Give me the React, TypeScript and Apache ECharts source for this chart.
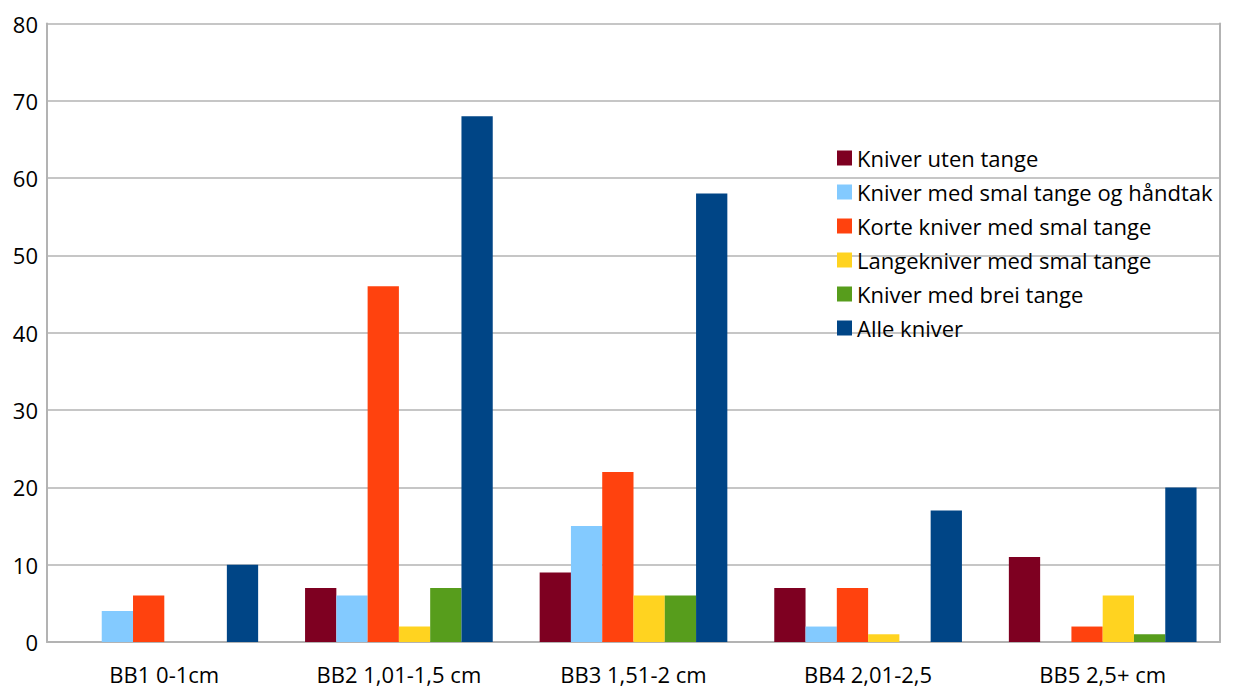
import React, { useEffect, useRef } from "react";
import * as echarts from "echarts";

const categories = ["BB1 0-1cm", "BB2 1,01-1,5 cm", "BB3 1,51-2 cm", "BB4 2,01-2,5", "BB5 2,5+ cm"];
const seriesNames = [
  "Kniver uten tange",
  "Kniver med smal tange og håndtak",
  "Korte kniver med smal tange",
  "Langekniver med smal tange",
  "Kniver med brei tange",
  "Alle kniver",
];
const utenTange = [0, 7, 9, 7, 11];
const smalHandtak = [4, 6, 15, 2, 0];
const korte = [6, 46, 22, 7, 2];
const lange = [0, 2, 6, 1, 6];
const brei = [0, 7, 6, 0, 1];
const alle = [10, 68, 58, 17, 20];
const colors = ["#7e0021", "#83caff", "#ff420e", "#ffd320", "#579d1c", "#004586"];

const FONT = "'Open Sans', sans-serif";

export default function App() {
  const ref = useRef<HTMLDivElement>(null);
  useEffect(() => {
    if (!ref.current) return;
    const chart = echarts.init(ref.current, undefined, { renderer: "svg" });
    const data = [utenTange, smalHandtak, korte, lange, brei, alle];
    chart.setOption({
      animation: false,
      color: colors,
      textStyle: { fontFamily: FONT },
      grid: { left: 47, right: 19, top: 23.5, bottom: 46, containLabel: false },
      legend: {
        orient: "vertical",
        left: 832,
        top: 141,
        itemWidth: 15,
        itemHeight: 15,
        itemGap: 10,
        icon: "rect",
        textStyle: { fontSize: 22, lineHeight: 24, color: "#000", fontFamily: FONT },
        data: seriesNames,
      },
      xAxis: {
        type: "category",
        data: categories,
        axisLine: { lineStyle: { color: "#b3b3b3", width: 2 } },
        axisTick: { show: false },
        axisLabel: { fontSize: 22, lineHeight: 22, color: "#000", margin: 21, fontFamily: FONT },
        splitLine: { show: false },
      },
      yAxis: [
        {
          type: "value",
          min: 0,
          max: 80,
          interval: 10,
          axisLine: { show: true, lineStyle: { color: "#b3b3b3", width: 2 } },
          axisTick: { show: false },
          axisLabel: { fontSize: 22, color: "#000", margin: 9, fontFamily: FONT },
          splitLine: { show: true, lineStyle: { color: "#b3b3b3", width: 1.5 } },
        },
        {
          type: "value",
          position: "right",
          min: 0,
          max: 80,
          interval: 10,
          axisLine: { show: true, lineStyle: { color: "#b3b3b3", width: 2 } },
          axisTick: { show: false },
          axisLabel: { show: false },
          splitLine: { show: false },
        },
      ],
      series: seriesNames.map((name, i) => ({
        name,
        type: "bar",
        data: data[i],
        barGap: "0%",
        barCategoryGap: "20%",
        itemStyle: { color: colors[i] },
      })),
    });
    return () => chart.dispose();
  }, []);
  return <div ref={ref} style={{ width: 1239, height: 688, position: "absolute", left: 0, top: 0 }} />;
}
